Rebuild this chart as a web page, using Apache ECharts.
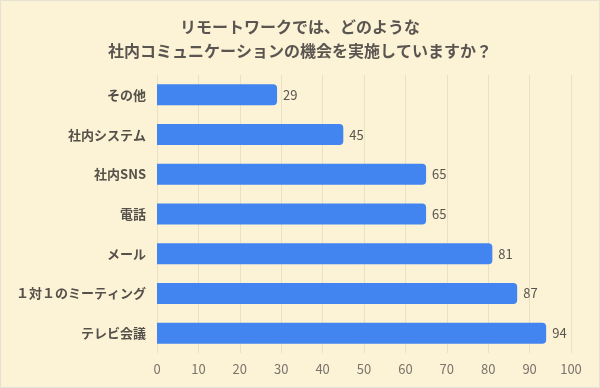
<!DOCTYPE html>
<html><head><meta charset="utf-8">
<script src="https://cdn.jsdelivr.net/npm/echarts@6/dist/echarts.min.js"></script>
<style>
html,body{margin:0;padding:0;background:#fcf2d5;}
#c{width:600px;height:388px;box-sizing:border-box;border:1px solid #e6e1d2;}
</style></head>
<body><div id="c"></div>
<script>
const titleLines = ['リモートワークでは、どのような', '社内コミュニケーションの機会を実施していますか？'];
const categories = ['その他', '社内システム', '社内SNS', '電話', 'メール', '１対１のミーティング', 'テレビ会議'];
const values = [29, 45, 65, 65, 81, 87, 94];
const xTicks = { min: 0, max: 100, interval: 10 };

const font = '"Noto Sans CJK JP", "Noto Sans", sans-serif';
const chart = echarts.init(document.getElementById('c'));
chart.setOption({
  backgroundColor: '#fcf2d5',
  animation: false,
  title: {
    text: titleLines.join('\n'),
    left: 'center', top: 9,
    textStyle: { fontFamily: font, fontSize: 16, fontWeight: 'bold', color: '#5a5550', lineHeight: 24 }
  },
  grid: { left: 156, right: 28, top: 74, bottom: 34, containLabel: false },
  xAxis: {
    type: 'value', min: xTicks.min, max: xTicks.max, interval: xTicks.interval,
    axisLine: { show: false }, axisTick: { show: false },
    splitLine: { show: true, lineStyle: { color: '#ebe0c2', width: 1 } },
    axisLabel: { fontFamily: font, fontSize: 13, color: '#7a746c', margin: 10 }
  },
  yAxis: {
    type: 'category', data: categories, inverse: true,
    axisLine: { show: false }, axisTick: { show: false },
    axisLabel: { fontFamily: font, fontSize: 13, fontWeight: 'bold', color: '#55504a', margin: 11 }
  },
  series: [{
    type: 'bar', data: values, barWidth: 21,
    itemStyle: { color: '#4285f0', borderRadius: [0, 4, 4, 0] },
    label: { show: true, position: 'right', distance: 6, fontFamily: font, fontSize: 13, color: '#5a5550' }
  }]
});
</script></body></html>
